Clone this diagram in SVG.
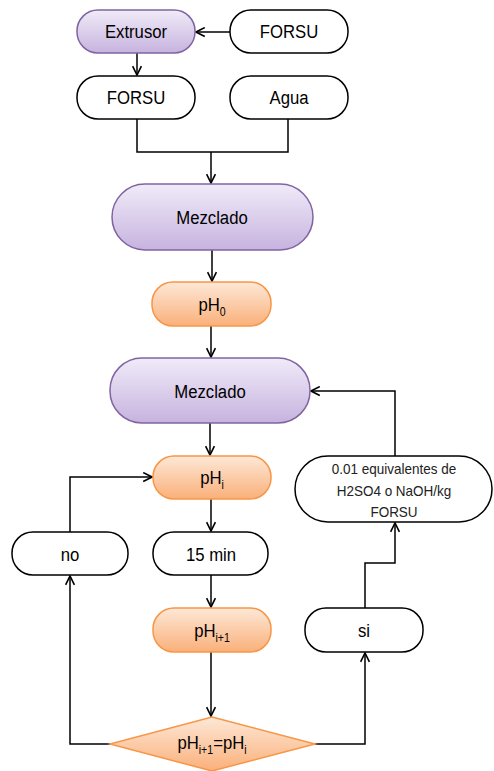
<svg xmlns="http://www.w3.org/2000/svg" width="494" height="771" viewBox="0 0 494 771">
<defs>
<linearGradient id="gp" x1="0" y1="0" x2="0" y2="1"><stop offset="0" stop-color="#f0ebf8"/><stop offset="1" stop-color="#c7b3df"/></linearGradient>
<linearGradient id="go" x1="0" y1="0" x2="0" y2="1"><stop offset="0" stop-color="#fde8d7"/><stop offset="1" stop-color="#fab07a"/></linearGradient>
<marker id="ah" viewBox="0 0 10 10" refX="9" refY="5" markerWidth="11" markerHeight="11" markerUnits="userSpaceOnUse" orient="auto"><path d="M1,1 L9,5 L1,9" fill="none" stroke="#000" stroke-width="1.5"/></marker>
<style>
.p{fill:url(#gp);stroke:#8064a2;stroke-width:1.5}
.o{fill:url(#go);stroke:#f79646;stroke-width:1.5}
.w{fill:#fff;stroke:#000;stroke-width:1.5}
text{font-family:"Liberation Sans",Arial,sans-serif;font-size:19px;fill:#000;text-anchor:middle}
.s{font-size:12px}
.sm{font-size:15px;fill:#222}
.c{fill:none;stroke:#000;stroke-width:1.5}
</style>
</defs>
<g id="connectors">
<path class="c" d="M230,32 H196" marker-end="url(#ah)"/>
<path class="c" d="M137,53 V75" marker-end="url(#ah)"/>
<path class="c" d="M137,119 V152 H288 V119"/>
<path class="c" d="M211,152 V183" marker-end="url(#ah)"/>
<path class="c" d="M212,250 V281" marker-end="url(#ah)"/>
<path class="c" d="M211,326 V357" marker-end="url(#ah)"/>
<path class="c" d="M210,423 V455" marker-end="url(#ah)"/>
<path class="c" d="M211,499 V531" marker-end="url(#ah)"/>
<path class="c" d="M211,575 V607" marker-end="url(#ah)"/>
<path class="c" d="M211,652 V716" marker-end="url(#ah)"/>
<path class="c" d="M110,744 H70 V576" marker-end="url(#ah)"/>
<path class="c" d="M70,532 V477 H152" marker-end="url(#ah)"/>
<path class="c" d="M315,744 H365 V653" marker-end="url(#ah)"/>
<path class="c" d="M365,608 V563 H395 V523" marker-end="url(#ah)"/>
<path class="c" d="M395,456 V391 H311" marker-end="url(#ah)"/>
</g>
<g id="extrusor"><rect class="p" x="77" y="10" width="118" height="43" rx="21"/><text transform="translate(136,38) scale(0.88,1)">Extrusor</text></g>
<g id="forsu1"><rect class="w" x="230" y="10" width="118" height="43" rx="21"/><text transform="translate(289,38) scale(0.88,1)">FORSU</text></g>
<g id="forsu2"><rect class="w" x="77" y="76" width="118" height="43" rx="21"/><text transform="translate(136,104) scale(0.88,1)">FORSU</text></g>
<g id="agua"><rect class="w" x="230" y="76" width="118" height="43" rx="21"/><text transform="translate(289,104) scale(0.88,1)">Agua</text></g>
<g id="mezclado1"><rect class="p" x="112" y="184" width="201" height="66" rx="33"/><text transform="translate(212,224) scale(0.88,1)">Mezclado</text></g>
<g id="ph0"><rect class="o" x="152" y="282" width="119" height="44" rx="21"/><text transform="translate(212,311) scale(0.88,1)">pH<tspan class="s" dy="5">0</tspan></text></g>
<g id="mezclado2"><rect class="p" x="110" y="358" width="200" height="65" rx="32"/><text transform="translate(210,398) scale(0.88,1)">Mezclado</text></g>
<g id="phi"><rect class="o" x="153" y="456" width="118" height="43" rx="21"/><text transform="translate(212,484) scale(0.88,1)">pH<tspan class="s" dy="5">i</tspan></text></g>
<g id="dosis"><rect class="w" x="295" y="456" width="197" height="66" rx="33"/><text class="sm" transform="translate(394,474) scale(0.9,1)">0.01 equivalentes de</text><text class="sm" transform="translate(394,496) scale(0.9,1)">H2SO4 o NaOH/kg</text><text class="sm" transform="translate(394,517) scale(0.9,1)">FORSU</text></g>
<g id="no"><rect class="w" x="12" y="532" width="116" height="43" rx="21"/><text transform="translate(70,561) scale(0.88,1)">no</text></g>
<g id="min15"><rect class="w" x="153" y="532" width="115" height="43" rx="21"/><text transform="translate(211,561) scale(0.88,1)">15 min</text></g>
<g id="phi1"><rect class="o" x="153" y="608" width="118" height="44" rx="21"/><text transform="translate(212,637) scale(0.88,1)">pH<tspan class="s" dy="5">i+1</tspan></text></g>
<g id="si"><rect class="w" x="305" y="608" width="118" height="44" rx="21"/><text transform="translate(364,637) scale(0.88,1)">si</text></g>
<g id="decision"><polygon class="o" points="212,717 315,744 212,771 110,744"/><text transform="translate(212,749) scale(0.88,1)">pH<tspan class="s" dy="5">i+1</tspan><tspan dy="-5">=pH</tspan><tspan class="s" dy="5">i</tspan></text></g>
</svg>
